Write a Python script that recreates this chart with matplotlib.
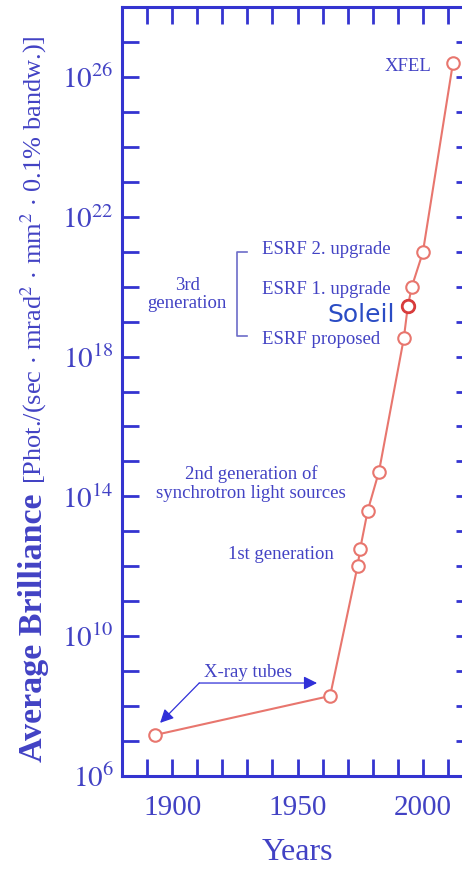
import matplotlib
matplotlib.use('Agg')
import matplotlib.pyplot as plt

plt.rcParams['mathtext.fontset'] = 'stix'
plt.rcParams['font.family'] = ['Liberation Serif', 'DejaVu Serif']

# brilliance of x-ray sources (year, log10 of brilliance)
years = [1893, 1963, 1974, 1975, 1978, 1982.5, 1992.4, 1994.0, 1995.6, 2000.0, 2012.0]
log_brill = [7.17, 8.29, 12.02, 12.5, 13.59, 14.71, 18.52, 19.44, 20.0, 20.98, 26.4]
soleil_idx = 7

x_tick_years = list(range(1880, 2021, 10))
x_label_years = [1900, 1950, 2000]
y_tick_decades = list(range(6, 29))
y_label_decades = [6, 10, 14, 18, 22, 26]

AXIS_BLUE = '#3434d0'
TEXT_BLUE = '#4242c4'
LINE_RED = '#e8766e'

brill = [10.0 ** v for v in log_brill]

fig = plt.figure(figsize=(4.62, 8.69), dpi=100)
ax = fig.add_axes([122 / 462, 93 / 869, 351 / 462, 769 / 869])

ax.plot(years, brill, color=LINE_RED, lw=1.5, zorder=2)
ax.plot(years, brill, 'o', ms=9, mfc='white', mec=LINE_RED, mew=1.5, zorder=3)
ax.plot(years[soleil_idx], brill[soleil_idx], 'o', ms=9, mfc='white',
        mec='#d83c3c', mew=2, zorder=4)

ax.set_yscale('log')
ax.set_xlim(1880, 2020)
ax.set_ylim(1e6, 1e28)

ax.set_xticks(x_tick_years)
ax.set_xticklabels([str(y) if y in x_label_years else '' for y in x_tick_years])
ax.set_yticks([10.0 ** d for d in y_tick_decades])
ax.set_yticklabels([r'$10^{%d}$' % d if d in y_label_decades else ''
                    for d in y_tick_decades])
ax.minorticks_off()

for s in ax.spines.values():
    s.set_color(AXIS_BLUE)
    s.set_linewidth(2.2)
ax.tick_params(axis='both', which='major', direction='in', length=12, width=2,
               color=AXIS_BLUE, top=True, right=True, labelcolor=TEXT_BLUE)
ax.tick_params(axis='x', labelsize=21, pad=14)
ax.tick_params(axis='y', labelsize=21, pad=6)
ax.set_xlabel('Years', fontsize=23, color=TEXT_BLUE, labelpad=12)

# annotations
txt = dict(color=TEXT_BLUE, fontsize=13.5)
ax.text(2003.6, 10 ** 26.29, 'XFEL', ha='right', va='center', **txt)
ax.text(1935.9, 10 ** 21.07, 'ESRF 2. upgrade', ha='left', va='center', **txt)
ax.text(1935.9, 10 ** 19.93, 'ESRF 1. upgrade', ha='left', va='center', **txt)
ax.text(1935.9, 10 ** 18.49, 'ESRF proposed', ha='left', va='center', **txt)
ax.text(1961.8, 10 ** 19.2, 'Soleil', ha='left', va='center', color='#2a4cc4',
        fontsize=18, family='DejaVu Sans')
ax.text(1906, 10 ** 19.78, '3rd\ngeneration', ha='center', va='center',
        linespacing=1.1, **txt)
ax.text(1931.5, 10 ** 14.37, '2nd generation of\nsynchrotron light sources',
        ha='center', va='center', linespacing=1.15, **txt)
ax.text(1964.5, 10 ** 12.33, '1st generation', ha='right', va='center', **txt)
ax.text(1930.3, 10 ** 8.95, 'X-ray tubes', ha='center', va='center', **txt)

# bracket for the 3rd generation
ax.plot([1929.9, 1925.9, 1925.9, 1929.9],
        [10 ** 21.0, 10 ** 21.0, 10 ** 18.58, 10 ** 18.58],
        color='#6c6cc8', lw=1.2)

# arrows to the x-ray tube points
arrow = dict(arrowstyle='-|>', color='#3030d8', lw=0.9, mutation_scale=20,
             shrinkA=0, shrinkB=0)
ax.annotate('', xy=(1957.8, 10 ** 8.66), xytext=(1910.8, 10 ** 8.66),
            arrowprops=arrow)
ax.annotate('', xy=(1895.2, 10 ** 7.52), xytext=(1910.8, 10 ** 8.66),
            arrowprops=arrow)

# y-axis label in two parts, the second placed right after the first
lab1 = fig.text(42 / 462, 1 - 762 / 869, 'Average Brilliance', rotation=90,
                rotation_mode='anchor', ha='left', va='baseline', fontsize=24.5,
                fontweight='bold', color=TEXT_BLUE)
fig.canvas.draw()
top1 = lab1.get_window_extent().y1
fig.text(41 / 462, (top1 + 10) / 869,
         r'[Phot./(sec $\cdot$ mrad$^2$ $\cdot$ mm$^2$ $\cdot$ 0.1% bandw.)]',
         rotation=90, rotation_mode='anchor', ha='left', va='baseline',
         fontsize=19, color=TEXT_BLUE)

fig.savefig('out.png', dpi=100, facecolor='white')
